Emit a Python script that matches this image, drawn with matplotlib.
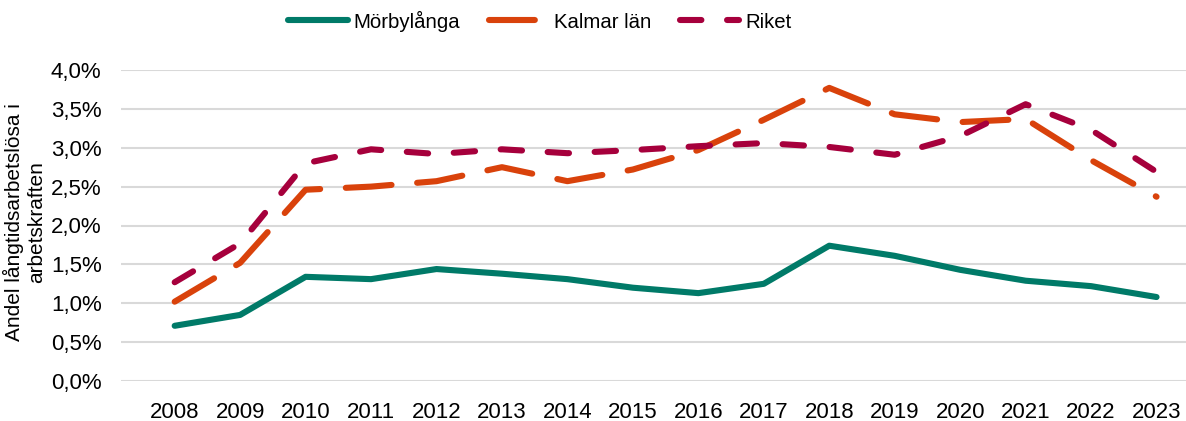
import numpy as np
import matplotlib.pyplot as plt
from matplotlib.ticker import FuncFormatter

plt.rcParams['font.family'] = ['Liberation Sans', 'DejaVu Sans']

years = [2008, 2009, 2010, 2011, 2012, 2013, 2014, 2015, 2016, 2017, 2018, 2019, 2020, 2021, 2022, 2023]
morbylanga = [0.71, 0.85, 1.34, 1.31, 1.44, 1.38, 1.31, 1.20, 1.13, 1.25, 1.74, 1.61, 1.43, 1.29, 1.22, 1.08]
kalmar = [1.02, 1.52, 2.46, 2.50, 2.57, 2.75, 2.57, 2.72, 2.97, 3.36, 3.77, 3.43, 3.33, 3.37, 2.84, 2.37]
riket = [1.27, 1.77, 2.80, 2.98, 2.92, 2.98, 2.93, 2.97, 3.02, 3.06, 3.01, 2.91, 3.15, 3.56, 3.23, 2.69]

fig = plt.figure(figsize=(11.86, 4.21), dpi=100)
ax = fig.add_axes([121/1186, 1 - 381/421, 1 - 121/1186, (381 - 70)/421])

lw = 4.4
ax.plot(years, morbylanga, color='#007A68', lw=lw, solid_capstyle='round',
        solid_joinstyle='round', label='Mörbylånga', zorder=3)
ax.plot(years, kalmar, color='#D9420B', lw=lw, dashes=(7.5, 4.2), dash_capstyle='round',
        dash_joinstyle='round', label='Kalmar län', zorder=3)
ax.plot(years, riket, color='#A6003C', lw=lw, dashes=(3.5, 4.2), dash_capstyle='round',
        dash_joinstyle='round', label='Riket', zorder=3)

ax.set_xlim(2008 - 0.82, 2023 + 0.45)
ax.set_ylim(0, 4.0)
ax.set_yticks(np.arange(0, 4.01, 0.5))
ax.yaxis.set_major_formatter(FuncFormatter(lambda v, p: f"{v:.1f}%".replace('.', ',')))
ax.set_xticks(years)
ax.set_xticklabels([str(y) for y in years])
ax.grid(axis='y', color='#D9D9D9', lw=1.5)
ax.set_axisbelow(True)
for s in ax.spines.values():
    s.set_visible(False)
ax.tick_params(axis='both', length=0, labelsize=16, colors='black')
ax.tick_params(axis='y', pad=14)
ax.tick_params(axis='x', pad=15)

ax.set_ylabel('Andel långtidsarbetslösa i\narbetskraften', fontsize=15)
ax.yaxis.set_label_coords(-0.0704, 0.511)

fig.legend(loc='center', bbox_to_anchor=(540/1186, 1 - 21/421), ncol=3, frameon=False,
           fontsize=14.7, handlelength=2.9, columnspacing=1.4, handletextpad=0.3,
           borderpad=0, borderaxespad=0)

plt.savefig('out.png', dpi=100)
